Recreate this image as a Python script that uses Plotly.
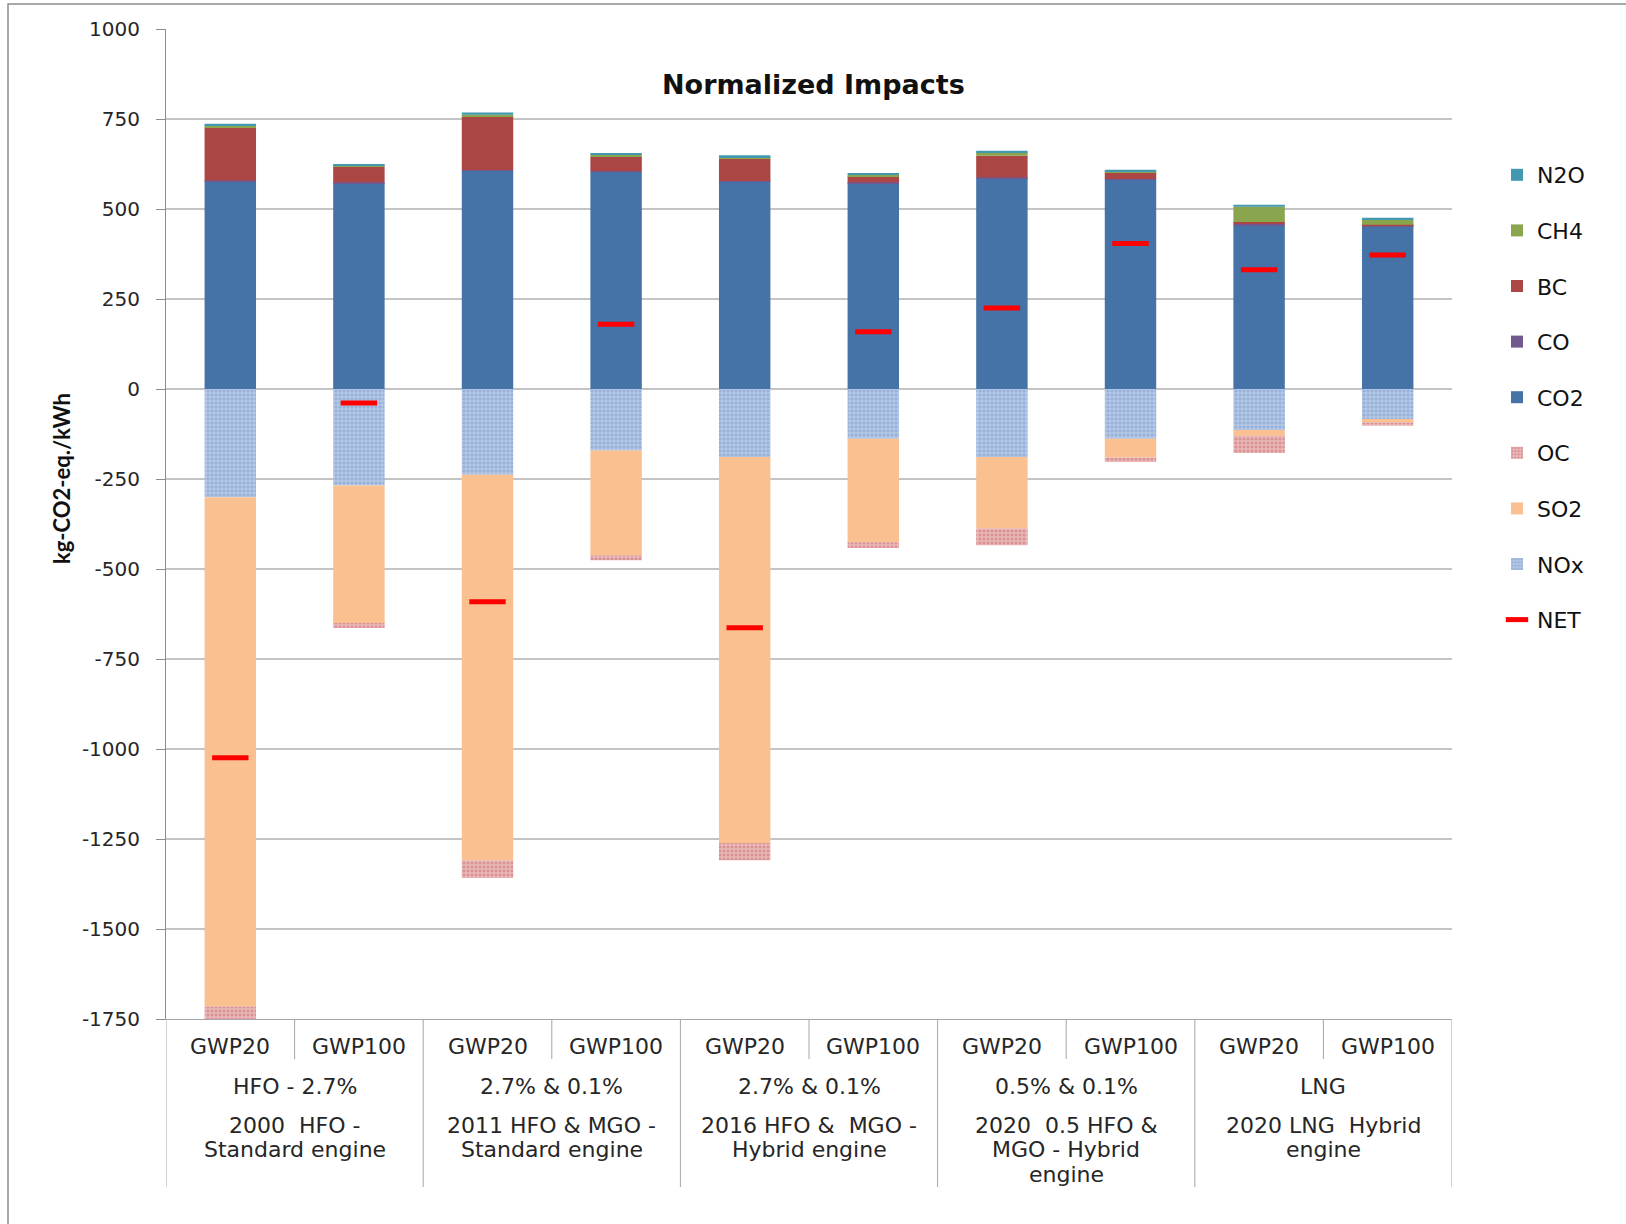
import plotly.graph_objects as go

# ---- data (kg-CO2-eq./kWh) ----
gwp = ["GWP20", "GWP100"] * 5
fuel_groups = ["HFO - 2.7%", "2.7% & 0.1%", "2.7% & 0.1%", "0.5% & 0.1%", "LNG"]
scenario_groups = [
    ["2000  HFO -", "Standard engine"],
    ["2011 HFO & MGO -", "Standard engine"],
    ["2016 HFO &  MGO -", "Hybrid engine"],
    ["2020  0.5 HFO &", "MGO - Hybrid", "engine"],
    ["2020 LNG  Hybrid", "engine"],
]

nox = [-301, -268, -238, -171, -189, -138, -189, -138, -114, -83]
so2 = [-1414, -382, -1071, -291, -1072, -288, -198, -52, -16, -10]
oc = [-38, -14, -49, -14, -48, -16, -47, -13, -48, -9]
co2 = [577, 572, 606, 603, 576, 572, 586, 581, 455, 452]
co = [2, 2, 2, 2, 2, 2, 2, 2, 4, 2]
bc = [148, 43, 149, 41, 61, 17, 60, 19, 5, 2]
ch4 = [5, 3, 5, 4, 5, 4, 9, 3, 42, 15]
n2o = [5, 5, 6, 5, 5, 5, 5, 4, 6, 5]
net = [-1024, -39, -591, 180, -663, 159, 225, 404, 331, 372]

y_ticks = [1000, 750, 500, 250, 0, -250, -500, -750, -1000, -1250, -1500, -1750]

# ---- page geometry ----
W, H = 1626, 1224
ML, MR, MT, MB = 166, 174, 29, 205
PW, PH = W - ML - MR, H - MT - MB


def px(x_pix):
    return (x_pix - ML) / PW


def py(y_pix):
    return (H - MB - y_pix) / PH


TXT = "#262626"
BODY_FONT = "DejaVu Sans"
LABEL_SIZE = 22
x = list(range(len(gwp)))

fig = go.Figure()

# stacked series (negatives first so they sit next to zero, then positives)
series = [
    ("NOx", nox, dict(color="#A9C0E2", pattern=dict(shape=".", fgcolor="#7896CA", bgcolor="#B4C8E6", size=4, solidity=0.45)), 8),
    ("SO2", so2, dict(color="#FAC090"), 7),
    ("OC", oc, dict(color="#E3A6A8", pattern=dict(shape=".", fgcolor="#C5686B", bgcolor="#EBB8B9", size=4, solidity=0.45)), 6),
    ("CO2", co2, dict(color="#4572A7"), 5),
    ("CO", co, dict(color="#71588F"), 4),
    ("BC", bc, dict(color="#AA4643"), 3),
    ("CH4", ch4, dict(color="#89A54E"), 2),
    ("N2O", n2o, dict(color="#4198AF"), 1),
]
for name, vals, mk, rank in series:
    mk = dict(mk)
    mk["line"] = dict(width=0)
    fig.add_trace(go.Bar(
        x=x, y=vals, name=name, marker=mk,
        legendgroup=name, legendrank=rank,
    ))

fig.add_trace(go.Scatter(
    x=x, y=net, name="NET", mode="markers",
    marker=dict(symbol="line-ew", size=26, line=dict(width=5, color="#FF0000"), color="#FF0000"),
    legendgroup="NET", legendrank=9,
))

annotations = []
shapes = []

# chart title
annotations.append(dict(
    text="<b>Normalized Impacts</b>", x=px(813), y=py(84), xref="paper", yref="paper",
    xanchor="center", yanchor="middle",
    showarrow=False, font=dict(family=BODY_FONT, size=27, color="#111111"),
))
# y axis title
annotations.append(dict(
    text="<b>kg-CO2-eq./kWh</b>", x=px(61), y=py(479), xref="paper", yref="paper",
    xanchor="center", yanchor="middle",
    textangle=-90, showarrow=False, font=dict(family="Lato", size=22, color="#111111"),
))

# three-level category axis below the plot
for i, g in enumerate(gwp):
    annotations.append(dict(
        text=g, x=i, y=py(1046), xref="x", yref="paper", showarrow=False,
        xanchor="center", yanchor="middle",
        font=dict(family=BODY_FONT, size=LABEL_SIZE, color=TXT),
    ))
for k, (fg, sc) in enumerate(zip(fuel_groups, scenario_groups)):
    xc = 2 * k + 0.5
    annotations.append(dict(
        text=fg, x=xc, y=py(1086), xref="x", yref="paper", showarrow=False,
        xanchor="center", yanchor="middle",
        font=dict(family=BODY_FONT, size=LABEL_SIZE, color=TXT),
    ))
    for j, line in enumerate(sc):
        annotations.append(dict(
            text=line, x=xc, y=py(1125 + 24.5 * j), xref="x", yref="paper", showarrow=False,
            xanchor="center", yanchor="middle",
            font=dict(family=BODY_FONT, size=LABEL_SIZE, color=TXT),
        ))
    # short divider between GWP20 and GWP100
    shapes.append(dict(type="line", xref="x", yref="paper", x0=xc, x1=xc, y0=0, y1=py(1059),
                       line=dict(color="#A6A6A6", width=1)))
# long dividers between scenario groups
for k in range(len(fuel_groups) + 1):
    xb = 2 * k - 0.5
    shapes.append(dict(type="line", xref="x", yref="paper", x0=xb, x1=xb, y0=0, y1=py(1187),
                       line=dict(color="#A6A6A6", width=1)))

# outer frame of the chart area
shapes.append(dict(type="rect", xref="paper", yref="paper",
                   x0=px(8), x1=px(1660), y0=py(1260), y1=py(4),
                   line=dict(color="#8C8C8C", width=1.5), fillcolor="rgba(0,0,0,0)", layer="below"))

fig.update_layout(
    width=W, height=H,
    margin=dict(l=ML, r=MR, t=MT, b=MB, autoexpand=False),
    paper_bgcolor="white", plot_bgcolor="white",
    barmode="relative", bargap=0.6,
    showlegend=True,
    legend=dict(
        x=px(1497), y=py(154), xanchor="left", yanchor="top",
        traceorder="grouped", tracegroupgap=24,
        font=dict(family=BODY_FONT, size=22, color="#111111"),
        bgcolor="rgba(0,0,0,0)", borderwidth=0,
    ),
    xaxis=dict(
        range=[-0.5, len(gwp) - 0.5], showticklabels=False, showgrid=False, zeroline=False,
        showline=True, linecolor="#A6A6A6", linewidth=1, ticks="",
    ),
    yaxis=dict(
        range=[y_ticks[-1], y_ticks[0]], tickmode="array", tickvals=y_ticks,
        ticktext=[str(v) for v in y_ticks],
        showgrid=True, gridcolor="#C4C4C4", gridwidth=1.5, zeroline=False,
        showline=True, linecolor="#8C8C8C", linewidth=1,
        ticks="outside", ticklen=9, tickcolor="#8C8C8C", ticklabelstandoff=12,
        tickfont=dict(family=BODY_FONT, size=20, color=TXT),
    ),
    annotations=annotations,
    shapes=shapes,
)

fig.write_html("out.html")
